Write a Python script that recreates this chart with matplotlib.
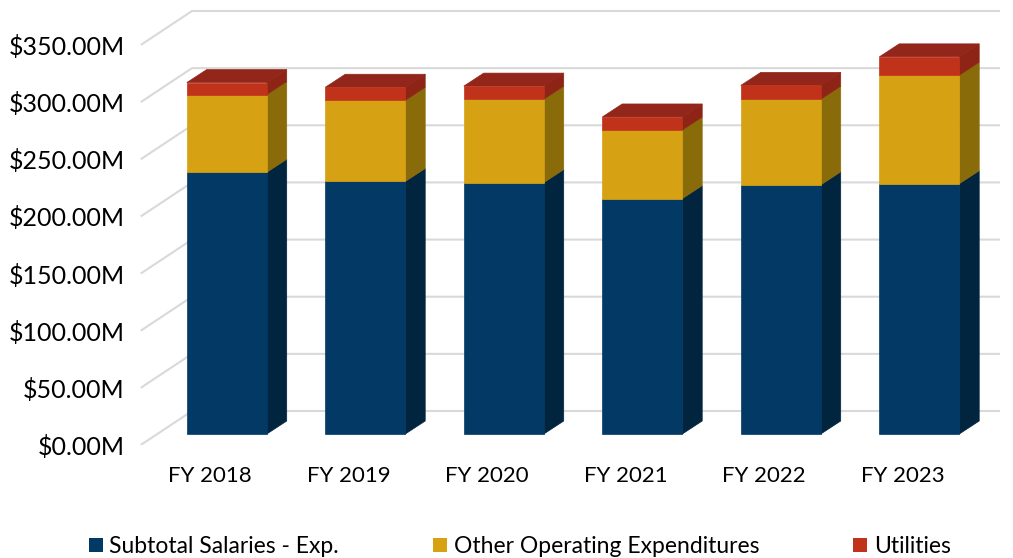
import matplotlib
matplotlib.use("Agg")
import matplotlib.pyplot as plt
from matplotlib.patches import Polygon, Patch
import numpy as np

plt.rcParams['font.family'] = ['Lato', 'DejaVu Sans']

categories = ["FY 2018", "FY 2019", "FY 2020", "FY 2021", "FY 2022", "FY 2023"]
salaries = [229, 221, 220, 206, 218, 219]
other_opex = [68, 71, 73, 60, 75, 95]
utilities = [10.5, 11.4, 11.4, 11.4, 12, 16]
series_names = ["Subtotal Salaries - Exp.", "Other Operating Expenditures", "Utilities"]
yticks = [0, 50, 100, 150, 200, 250, 300, 350]

front_colors = ["#033a65", "#d6a112", "#c0321a"]
side_colors = ["#01243f", "#8a6b0a", "#8d2416"]
top_color = "#93261a"

W, H, DPI = 1013, 558, 100
fig = plt.figure(figsize=(W / DPI, H / DPI), dpi=DPI)

# pixel geometry
px_per_cat = 138.5
px_per_M = 400 / 350
x0_px = 210          # front floor center of first category
y0_px = 445          # front floor level for value 0 (from top)
left_px, right_px = 140, 1013
ax = fig.add_axes([left_px / W, (H - y0_px) / H, (right_px - left_px) / W, y0_px / H])
xlo = (left_px - x0_px) / px_per_cat
xhi = (right_px - x0_px) / px_per_cat
ax.set_xlim(xlo, xhi)
ax.set_ylim(0, y0_px / px_per_M)
for s in ax.spines.values():
    s.set_visible(False)

# depth projection (full depth of the floor)
DX = 52 / px_per_cat
DY = 34 / px_per_M

# gridlines (side wall diagonal + back wall horizontal)
grid_end = (1000 - x0_px) / px_per_cat
for v in yticks:
    ax.plot([xlo + 0.005, xlo + DX, grid_end], [v, v + DY, v + DY],
            color="#d9d9d9", lw=1.5, zorder=1, solid_capstyle='butt')

z_front, z_back = 0.324, 0.706
bw = 80 / px_per_cat
ddx = (z_back - z_front) * DX
ddy = (z_back - z_front) * DY
xs = np.arange(len(categories))
data = [salaries, other_opex, utilities]
base = np.full(len(categories), z_front * DY)
for k, vals in enumerate(data):
    vals = np.array(vals, dtype=float)
    xc = xs + z_front * DX
    for i in range(len(categories)):
        xr = xc[i] + bw / 2
        xl = xc[i] - bw / 2
        b, t = base[i], base[i] + vals[i]
        ax.add_patch(Polygon([(xr, b), (xr, t), (xr + ddx, t + ddy), (xr + ddx, b + ddy)],
                             closed=True, facecolor=side_colors[k], edgecolor=side_colors[k],
                             lw=0.5, zorder=3))
        if k == len(data) - 1:
            ax.add_patch(Polygon([(xl, t), (xr, t), (xr + ddx, t + ddy), (xl + ddx, t + ddy)],
                                 closed=True, facecolor=top_color, edgecolor=top_color,
                                 lw=0.5, zorder=3))
    ax.bar(xc, vals, width=bw, bottom=base, color=front_colors[k], edgecolor=front_colors[k],
           linewidth=0.5, zorder=4)
    base = base + vals

ax.set_yticks(yticks)
ax.set_yticklabels([f"${v:.2f}M" for v in yticks], fontsize=18)
ax.tick_params(axis='y', length=0, pad=11)
ax.set_xticks(xs)
ax.set_xticklabels(categories, fontsize=16)
ax.tick_params(axis='x', length=0, pad=15)

handles = [Patch(facecolor=c, edgecolor='none') for c in front_colors]
fig.legend(handles, series_names, loc='lower center', bbox_to_anchor=(0.513, -0.035), ncol=3,
           frameon=False, fontsize=16.5, handlelength=0.6, handleheight=0.6,
           handletextpad=0.3, columnspacing=4.1)

fig.savefig("out.png", dpi=DPI)
